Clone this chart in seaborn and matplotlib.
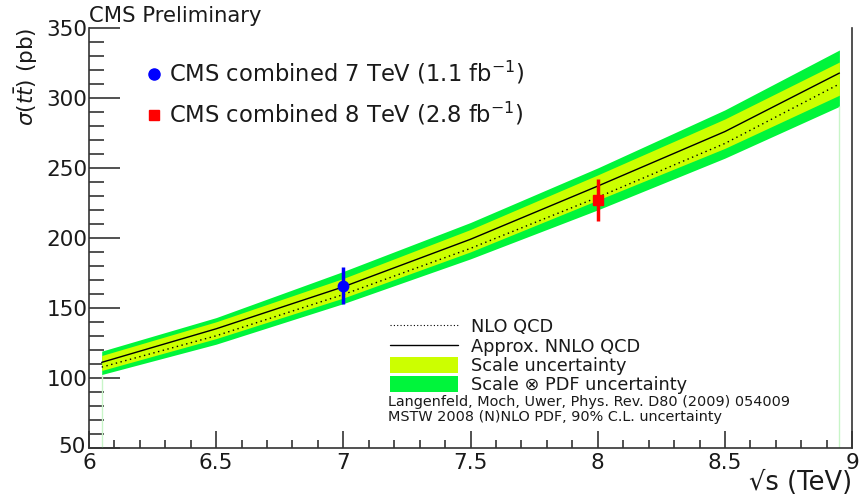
import numpy as np
import pandas as pd
import matplotlib
matplotlib.use("Agg")
import matplotlib.pyplot as plt
import matplotlib.transforms as mtransforms
import seaborn as sns
from matplotlib.lines import Line2D
from matplotlib.patches import Patch

# ---- data ----
sqrt_s = [6.05, 6.5, 7.0, 7.5, 8.0, 8.5, 8.95]
nnlo = [111.0, 135.0, 165.0, 199.0, 237.0, 276.0, 317.8]
nlo = [107.6, 130.0, 159.5, 192.5, 229.0, 267.5, 310.0]
scale_hi = [115.9, 140.0, 171.0, 206.0, 245.0, 285.0, 325.7]
scale_lo = [105.2, 128.0, 157.0, 190.0, 227.0, 264.0, 302.0]
pdf_hi = [119.0, 143.0, 176.0, 211.0, 250.0, 291.5, 334.3]
pdf_lo = [102.3, 124.0, 153.0, 185.0, 220.0, 257.0, 294.0]

meas_x = [7.0, 8.0]
meas_y = [165.8, 227.0]
meas_err = [13.3, 15.0]
meas_labels = ["CMS combined 7 TeV (1.1 fb$^{-1}$)", "CMS combined 8 TeV (2.8 fb$^{-1}$)"]

x_ticks = [6, 6.5, 7, 7.5, 8, 8.5, 9]
x_tick_labels = ["6", "6.5", "7", "7.5", "8", "8.5", "9"]
y_ticks = [50, 100, 150, 200, 250, 300, 350]

sns.set_theme(style="ticks")
plt.rcParams['font.family'] = ['DejaVu Sans']
plt.rcParams['mathtext.fontset'] = 'dejavusans'

df = pd.DataFrame({"sqrt_s": sqrt_s, "nnlo": nnlo, "nlo": nlo})

fig = plt.figure(figsize=(8.59, 4.96), dpi=100)
ax = fig.add_axes([0.1036, 0.0974, 0.8884, 0.8461])

GREEN = "#00f53b"
YELLOW = "#ccff00"
TXT = '#1a1a1a'

ax.fill_between(sqrt_s, pdf_lo, pdf_hi, color=GREEN, lw=0, zorder=1)
ax.fill_between(sqrt_s, scale_lo, scale_hi, color=YELLOW, lw=0, zorder=2)
ax.vlines([sqrt_s[0]], 50, pdf_lo[0], color="#c8f5c8", lw=1, zorder=1)
ax.vlines([sqrt_s[-1]], 50, pdf_lo[-1], color="#c8f5c8", lw=1, zorder=1)

sns.lineplot(data=df, x="sqrt_s", y="nnlo", ax=ax, color="black", lw=1.0, zorder=3)
sns.lineplot(data=df, x="sqrt_s", y="nlo", ax=ax, color="black", lw=1.0,
             linestyle=(0, (1, 2.5)), zorder=3)

ax.errorbar([meas_x[0]], [meas_y[0]], yerr=[meas_err[0]], fmt='o', color="blue",
            ms=7.5, elinewidth=2.5, capsize=0, zorder=5)
ax.errorbar([meas_x[1]], [meas_y[1]], yerr=[meas_err[1]], fmt='s', color="red",
            ms=7.5, elinewidth=2.5, capsize=0, zorder=5)

ax.set_xlim(6, 9)
ax.set_ylim(50, 350)
ax.set_xticks(x_ticks)
ax.set_xticklabels(x_tick_labels)
ax.set_yticks(y_ticks)
ax.set_xticks(np.arange(6, 9.001, 0.1), minor=True)
ax.set_yticks(np.arange(50, 350.1, 10), minor=True)
ax.tick_params(axis='both', which='both', direction='in', colors='#333333',
               labelcolor=TXT, labelsize=15.5, right=False, top=False)
ax.tick_params(axis='y', which='major', length=22, width=1.2, pad=1)
ax.tick_params(axis='y', which='minor', length=11, width=1.2)
ax.tick_params(axis='x', which='major', length=12, width=1.2, pad=4)
ax.tick_params(axis='x', which='minor', length=6, width=1.2)
for s in ["left", "bottom", "right"]:
    ax.spines[s].set_color('#333333')
    ax.spines[s].set_linewidth(1.2)
ax.spines["top"].set_visible(False)

# nudge the lowest y label up a little so it does not collide with the "6"
lbl50 = ax.yaxis.get_major_ticks()[0].label1
lbl50.set_transform(lbl50.get_transform() +
                    mtransforms.ScaledTranslation(-2 / 100, 3 / 100, fig.dpi_scale_trans))

ax.set_xlabel("√s (TeV)", fontsize=18.5, loc='right', labelpad=-2, color=TXT)
ax.set_ylabel(r"$\sigma(t\bar{t})$ (pb)", fontsize=15.5, loc='top', color=TXT)
ax.yaxis.set_label_coords(-0.064, 1.0)

fig.text(89 / 859, 1 - 16 / 496, "CMS Preliminary", fontsize=15.2, va='center', ha='left',
         color=TXT)

h1 = [Line2D([], [], marker='o', color='blue', ls='none', ms=8),
      Line2D([], [], marker='s', color='red', ls='none', ms=7.5)]
leg1 = ax.legend(h1, meas_labels, loc='upper left', bbox_to_anchor=(0.071, 0.925),
                 frameon=False, fontsize=16.3, handletextpad=0.15, labelspacing=0.6,
                 handlelength=1.0, borderaxespad=0, borderpad=0)
for t in leg1.get_texts():
    t.set_color(TXT)
ax.add_artist(leg1)

h2 = [Line2D([], [], color='black', lw=0.8, ls=(0, (1, 2))),
      Line2D([], [], color='black', lw=1.0),
      Patch(facecolor=YELLOW, edgecolor='none'),
      Patch(facecolor=GREEN, edgecolor='none')]
l2 = ["NLO QCD", "Approx. NNLO QCD", "Scale uncertainty", "Scale ⊗ PDF uncertainty"]
leg2 = ax.legend(h2, l2, loc='upper left', bbox_to_anchor=(0.395, 0.308),
                 frameon=False, fontsize=12.8, handletextpad=0.75, labelspacing=0.06,
                 handlelength=3.8, handleheight=1.0, borderaxespad=0, borderpad=0)
for t in leg2.get_texts():
    t.set_color(TXT)

fig.text(388 / 859, 1 - 402 / 496, "Langenfeld, Moch, Uwer, Phys. Rev. D80 (2009) 054009",
         fontsize=10.4, va='center', ha='left', color=TXT)
fig.text(388 / 859, 1 - 417 / 496, "MSTW 2008 (N)NLO PDF, 90% C.L. uncertainty",
         fontsize=10.4, va='center', ha='left', color=TXT)

fig.savefig("out.png", dpi=100)
